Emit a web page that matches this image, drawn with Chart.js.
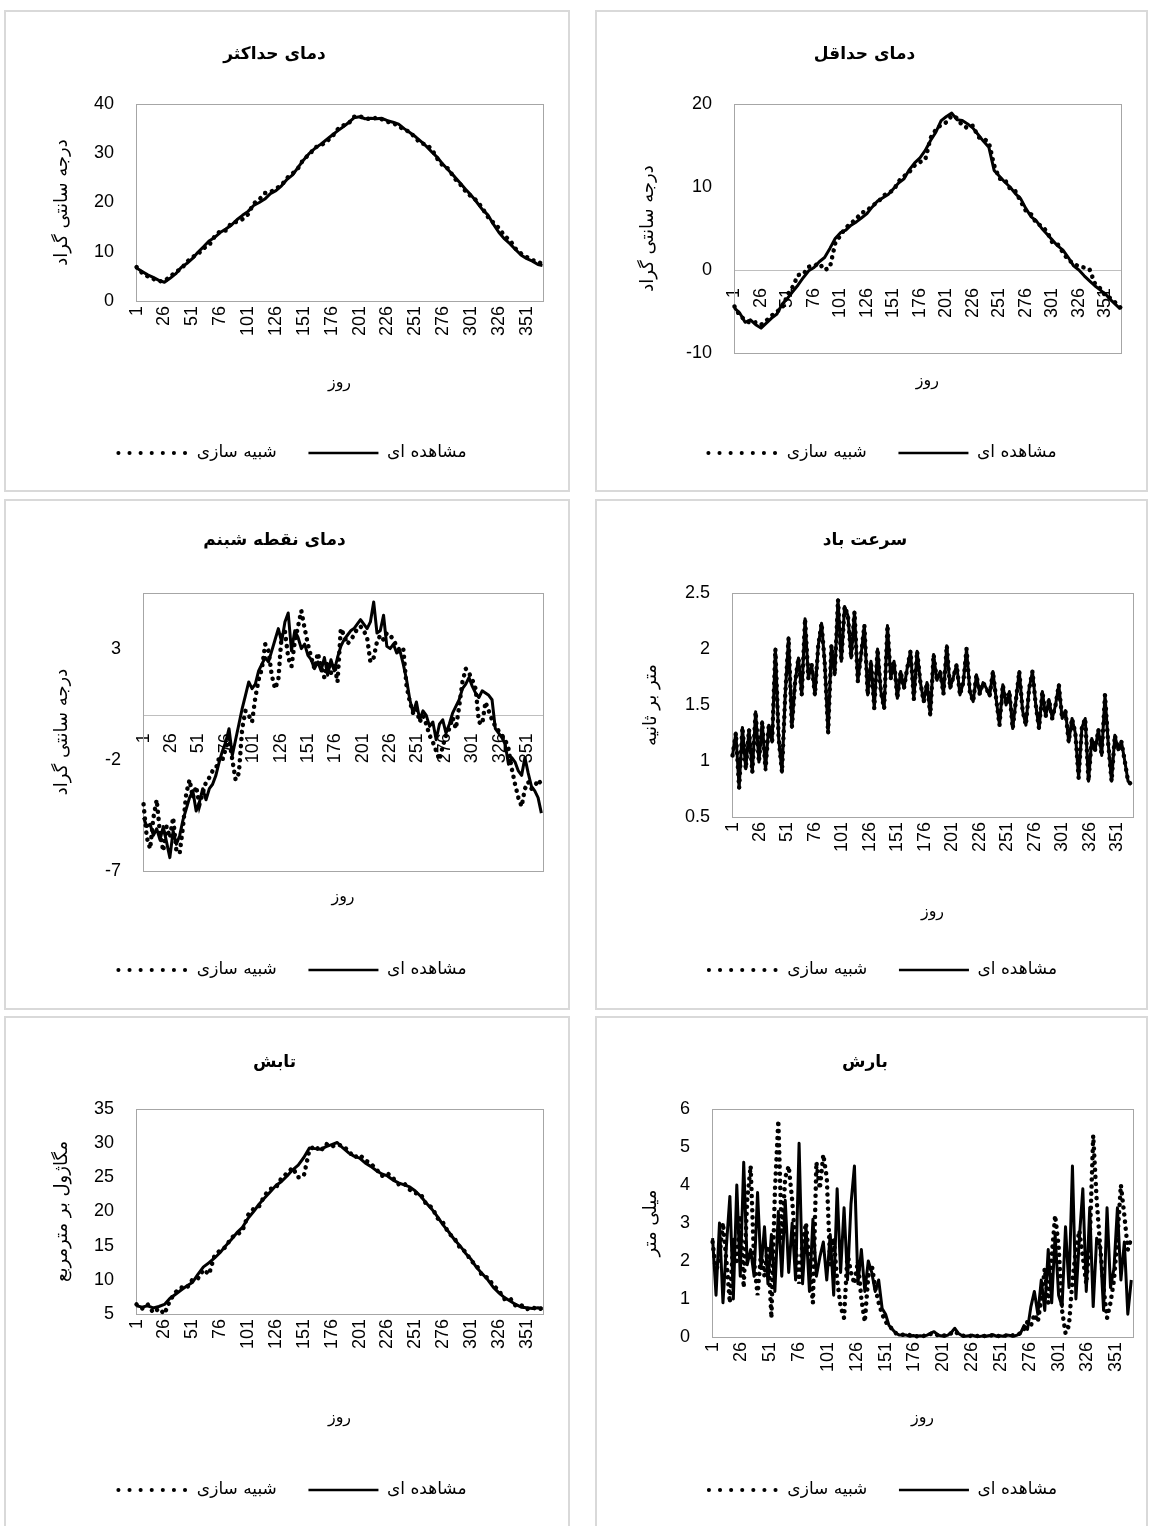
<!DOCTYPE html>
<html>
<head>
<meta charset="utf-8">
<script src="https://cdn.jsdelivr.net/npm/chart.js@4.4.0/dist/chart.umd.min.js"></script>
<style>
  body { margin: 0; width: 1151px; height: 1526px; overflow: hidden; background: #fff; position: relative; }
  .panel { position: absolute; border: 2px solid #d9d9d9; box-sizing: border-box; background: #fff; }
  .panel canvas { position: absolute; left: 0; top: 0; }
</style>
</head>
<body>
<div class="panel" id="maxT"><canvas></canvas></div>
<div class="panel" id="minT"><canvas></canvas></div>
<div class="panel" id="dew"><canvas></canvas></div>
<div class="panel" id="wind"><canvas></canvas></div>
<div class="panel" id="rad"><canvas></canvas></div>
<div class="panel" id="rain"><canvas></canvas></div>
<script>
// متن ها
const titles = ["دمای حداکثر", "دمای حداقل", "دمای نقطه شبنم", "سرعت باد", "تابش", "بارش"];
const yTitles = ["درجه سانتی گراد", "درجه سانتی گراد", "درجه سانتی گراد", "متر بر ثانیه", "مگاژول بر مترمربع", "میلی متر"];
const seriesLabels = ["شبیه سازی", "مشاهده ای"];
const xTitle = "روز";

// محور روز
const dayTicks = [1, 26, 51, 76, 101, 126, 151, 176, 201, 226, 251, 276, 301, 326, 351];
const days5 = [1,6,11,16,21,26,31,36,41,46,51,56,61,66,71,76,81,86,91,96,101,106,111,116,121,126,131,136,141,146,
  151,156,161,166,171,176,181,186,191,196,201,206,211,216,221,226,231,236,241,246,251,256,261,266,271,276,281,286,291,296,
  301,306,311,316,321,326,331,336,341,346,351,356,361,365];
const days3 = [1,4,7,10,13,16,19,22,25,28,31,34,37,40,43,46,49,52,55,58,61,64,67,70,73,76,79,82,85,88,
  91,94,97,100,103,106,109,112,115,118,121,124,127,130,133,136,139,142,145,148,151,154,157,160,163,166,169,172,175,178,
  181,184,187,190,193,196,199,202,205,208,211,214,217,220,223,226,229,232,235,238,241,244,247,250,253,256,259,262,265,268,
  271,274,277,280,283,286,289,292,295,298,301,304,307,310,313,316,319,322,325,328,331,334,337,340,343,346,349,352,355,358,361,364];

// تیک های محور عمودی
const maxTempTicks = [0, 10, 20, 30, 40];
const minTempTicks = [-10, 0, 10, 20];
const dewTicks = [-7, -2, 3];
const windTicks = [0.5, 1, 1.5, 2, 2.5];
const radTicks = [5, 10, 15, 20, 25, 30, 35];
const rainTicks = [0, 1, 2, 3, 4, 5, 6];

// دمای حداکثر (days5)
const maxTempObs = [6.7,6.0,5.3,4.8,4.2,3.8,4.6,5.5,6.8,7.6,
  8.6,9.9,11.0,12.2,12.9,13.9,14.6,15.4,16.5,17.4,
  18.2,19.4,20.0,20.7,21.8,22.4,23.4,24.7,25.6,27.2,
  28.7,30.0,31.0,31.8,32.7,33.6,34.5,35.3,36.2,37.2,
  37.4,37.0,37.1,37.0,37.1,36.6,36.3,35.9,35.0,34.2,
  33.4,32.4,31.4,30.2,29.1,27.7,26.5,25.3,24.0,22.7,
  21.5,20.1,18.6,17.5,15.6,13.9,12.6,11.6,10.4,9.3,
  8.6,8.1,7.4,7.2];
const maxTempSim = [6.9,5.7,5.0,4.5,4.0,4.1,4.9,5.9,6.5,7.9,
  8.9,9.5,10.7,11.3,13.1,14.2,14.3,15.8,16.1,16.6,
  17.6,19.8,20.6,21.9,22.1,22.8,23.5,25.0,25.9,27.0,
  28.9,29.7,31.2,31.5,32.4,33.2,34.8,35.6,36.0,37.4,
  37.5,37.1,36.9,37.2,36.9,36.4,36.1,35.6,34.7,34.4,
  33.1,32.0,31.8,30.7,28.8,27.4,26.8,24.9,23.8,22.3,
  21.2,20.4,18.9,17.1,15.9,14.8,13.2,12.3,10.6,9.6,
  8.9,8.3,7.9,7.6];

// دمای حداقل (days5)
const minTempObs = [-4.6,-5.2,-6.3,-6.0,-6.6,-7.0,-6.4,-5.8,-5.3,-4.1,
  -3.4,-2.6,-1.8,-0.9,-0.1,0.3,1.0,1.5,2.6,3.8,
  4.5,4.8,5.4,5.8,6.3,6.8,7.6,8.3,8.7,9.1,
  9.8,10.5,11.0,12.1,12.9,13.5,14.4,15.6,16.6,18.0,
  18.5,18.9,18.1,18.0,17.6,17.1,16.3,15.5,14.8,12.0,
  11.3,10.6,10.0,9.2,8.6,7.4,6.4,5.9,5.0,4.3,
  3.6,2.9,2.4,1.5,0.5,0.0,-0.7,-1.3,-1.9,-2.4,
  -2.9,-3.6,-4.2,-4.7];
const minTempSim = [-4.4,-5.5,-6.0,-6.4,-6.3,-6.6,-6.1,-5.5,-5.0,-4.6,
  -3.0,-2.0,-0.6,-0.5,0.4,0.5,0.8,0.0,0.3,3.2,
  4.2,5.1,5.6,6.2,6.9,7.1,7.8,8.1,8.9,9.3,
  9.6,10.7,11.3,11.8,12.6,13.0,13.3,15.9,16.9,17.5,
  17.8,18.6,18.3,17.4,17.1,17.4,16.0,15.8,15.4,12.6,
  11.0,10.9,9.8,9.5,8.3,7.1,6.7,5.6,5.3,4.6,
  3.3,3.1,2.1,1.2,0.8,0.4,0.3,0.1,-1.6,-2.2,
  -3.1,-3.4,-4.0,-4.5];

// تابش (days5)
const radObs = [6.2,6.0,6.2,5.9,6.1,6.4,7.3,7.9,8.5,9.1,
  9.6,10.8,11.9,12.5,13.2,14.0,15.0,15.9,16.9,17.7,
  19.0,20.0,21.1,22.0,22.9,23.8,24.4,25.2,26.1,26.8,
  27.9,29.3,29.2,29.1,29.5,29.8,30.1,29.3,28.6,28.1,
  27.8,27.1,26.6,26.0,25.5,25.2,24.6,24.2,23.9,23.6,
  23.0,22.2,21.2,20.3,19.2,18.0,17.0,15.9,15.0,13.9,
  13.0,11.8,10.9,10.0,8.9,8.1,7.4,6.9,6.4,6.0,
  5.9,5.8,5.9,5.8];
const radSim = [6.4,5.8,6.4,5.2,5.8,5.0,7.0,8.2,8.9,8.8,
  10.0,10.2,11.5,10.8,13.6,14.3,14.8,16.2,16.6,17.2,
  19.5,20.4,20.8,22.4,23.3,23.5,24.9,25.6,26.4,25.0,
  25.2,29.0,29.6,28.8,29.9,29.5,29.8,29.6,28.9,27.9,
  28.3,27.5,27.0,26.2,25.2,25.6,24.9,24.0,24.1,23.2,
  22.7,22.5,21.0,20.6,19.0,18.3,16.8,16.1,14.7,14.1,
  12.8,12.1,10.6,10.3,9.2,8.4,7.2,7.3,6.2,6.3,
  5.7,6.0,5.6,5.9];

// دمای نقطه شبنم (days3)
const dewObs = [-4.6,-5.0,-4.9,-5.4,-5.1,-5.6,-5.0,-5.7,-6.4,-5.2,
  -5.8,-5.4,-4.7,-4.2,-3.7,-3.4,-4.3,-3.9,-3.3,-3.8,
  -3.3,-3.1,-2.7,-2.1,-1.6,-1.2,-0.6,-1.8,-1.1,-0.4,
  0.3,0.9,1.5,1.2,1.4,2.0,2.3,2.6,2.4,2.9,
  3.4,3.9,3.3,4.2,4.6,2.9,3.8,3.5,3.0,3.2,
  2.7,2.5,2.1,2.4,2.0,2.6,1.8,2.5,2.0,2.6,
  3.1,3.4,3.6,3.8,3.9,4.1,4.3,4.1,3.9,4.2,
  5.1,3.7,3.8,4.5,3.1,3.0,3.2,2.8,2.9,2.3,
  1.6,0.7,0.1,0.6,-0.2,0.2,0.0,-0.5,-0.3,-1.1,
  -0.4,-0.2,-0.8,-0.4,0.1,0.4,0.7,1.2,1.4,1.7,
  1.3,1.0,0.8,1.1,1.0,0.9,0.7,-0.6,-0.8,-1.0,
  -1.3,-2.2,-1.9,-2.1,-2.5,-2.7,-1.9,-2.6,-3.2,-3.4,
  -3.7,-4.4];
const dewSim = [-4.0,-5.5,-6.0,-4.6,-3.8,-5.3,-6.1,-5.0,-5.5,-4.6,
  -6.1,-6.2,-5.0,-3.5,-2.9,-3.7,-3.2,-4.0,-3.5,-3.0,
  -2.8,-2.5,-2.4,-1.9,-2.0,-1.5,-1.0,-2.0,-2.9,-2.6,
  -0.6,0.2,0.0,-0.3,0.8,1.6,2.1,3.2,2.9,1.8,
  1.2,1.6,3.6,3.8,2.6,2.2,3.3,4.0,4.7,3.9,
  3.2,2.6,2.1,2.8,2.2,1.7,2.4,1.9,2.3,1.5,
  3.9,3.6,3.2,3.4,3.6,3.9,4.0,3.8,3.5,2.4,
  2.6,3.3,3.6,3.4,3.7,3.6,3.4,3.1,2.9,3.0,
  1.3,0.6,0.1,0.3,-0.3,0.0,-0.4,-0.9,-1.2,-1.6,
  -2.0,-1.4,-0.9,-0.6,-0.1,-0.6,0.4,1.5,2.1,1.9,
  1.6,1.2,-0.3,-0.4,0.6,0.2,-0.2,-0.5,-0.7,-0.9,
  -1.1,-1.5,-2.4,-3.1,-3.7,-4.1,-3.3,-3.0,-3.3,-3.2,
  -2.9,-3.1];

// سرعت باد (days3)
const windObs = [1.05,1.25,0.76,1.30,0.93,1.28,0.90,1.44,0.99,1.35,
  0.92,1.32,1.17,2.00,1.20,0.90,1.60,2.10,1.30,1.71,
  1.92,1.59,2.27,1.74,1.86,1.59,2.03,2.23,1.86,1.25,
  2.03,1.77,2.44,1.89,2.38,2.30,1.92,2.33,1.71,1.95,
  2.21,1.59,1.89,1.47,2.00,1.62,1.47,2.21,1.74,1.89,
  1.56,1.80,1.65,1.83,1.98,1.55,1.98,1.70,1.53,1.70,
  1.41,1.95,1.72,1.80,1.60,2.03,1.65,1.75,1.86,1.59,
  1.70,2.00,1.62,1.53,1.77,1.60,1.70,1.65,1.58,1.80,
  1.55,1.32,1.68,1.50,1.62,1.29,1.55,1.80,1.45,1.32,
  1.65,1.80,1.50,1.29,1.62,1.40,1.55,1.38,1.50,1.68,
  1.38,1.45,1.17,1.38,1.25,0.85,1.30,1.38,0.82,1.20,
  1.10,1.28,1.05,1.59,1.15,0.82,1.23,1.10,1.17,1.00,
  0.82,0.79];
// در نمودار اصلی شبیه سازی باد روی مشاهده افتاده است
const windSim = windObs.slice();

// بارش (days3)
const rainObs = [2.6,1.1,3.0,0.9,2.4,3.7,1.0,4.0,1.6,4.6,
  1.9,2.3,1.6,3.8,1.8,2.9,1.4,2.7,1.2,3.3,
  1.6,3.6,1.7,3.0,1.5,5.1,1.4,2.9,1.2,3.1,
  1.6,2.1,2.5,1.5,2.7,1.1,3.9,1.7,3.4,1.5,
  3.5,4.5,1.4,2.3,1.2,2.0,1.7,1.2,1.5,0.75,
  0.6,0.3,0.2,0.1,0.05,0.05,0.05,0.02,0.04,0.02,
  0.03,0.02,0.05,0.1,0.14,0.06,0.03,0.02,0.05,0.12,
  0.23,0.1,0.04,0.02,0.03,0.05,0.02,0.01,0.03,0.02,
  0.04,0.06,0.02,0.03,0.02,0.05,0.04,0.02,0.05,0.1,
  0.3,0.2,0.8,1.2,0.6,1.5,0.7,2.3,0.9,2.7,
  1.1,0.8,2.9,1.3,4.5,1.0,2.6,3.9,1.2,3.4,
  0.8,2.6,2.4,0.7,3.4,1.3,1.8,3.4,1.5,2.5,
  0.6,1.5];
const rainSim = [2.5,1.7,2.1,3.0,2.0,0.9,2.6,2.0,3.2,1.3,
  3.6,4.5,2.0,1.1,2.2,1.6,2.4,0.5,3.8,5.7,
  2.6,4.2,4.5,3.6,2.4,1.4,2.5,3.0,1.9,0.9,
  4.6,3.9,4.8,4.2,1.9,2.6,1.5,0.8,0.5,2.2,
  1.7,1.4,2.0,1.0,0.4,1.6,1.9,1.3,0.9,0.6,
  0.4,0.3,0.2,0.1,0.08,0.06,0.04,0.05,0.03,0.02,
  0.04,0.03,0.05,0.08,0.1,0.05,0.03,0.04,0.06,0.1,
  0.15,0.08,0.04,0.03,0.02,0.04,0.03,0.02,0.03,0.02,
  0.03,0.05,0.03,0.02,0.03,0.04,0.03,0.05,0.06,0.1,
  0.2,0.4,0.3,0.6,0.4,1.0,1.8,0.9,2.1,3.2,
  2.4,0.7,0.1,0.3,1.5,2.3,2.8,2.1,1.4,2.5,
  5.3,3.6,2.4,1.3,0.5,0.9,1.5,2.6,4.0,3.2,
  2.3,2.6];

// فونت ها
const numFamily = "'Liberation Sans', Arial, sans-serif";
const faFamily = "'DejaVu Sans', sans-serif";
const titleSize = 17, axisTitleSize = 16, yTitleSize = 18, legendSize = 17;

// چیدمان هر پنل (مختصات صفحه)
const panels = [
  { id: "maxT", panel: { x: 4, y: 10, w: 566, h: 482 }, plot: { l: 136, t: 104, r: 543, b: 301 },
    titleY: 55, xTitleY: 383, legendY: 453, yTitleX: 62, n: 0,
    days: days5, obs: maxTempObs, sim: maxTempSim, yMin: 0, yMax: 40, yTicks: maxTempTicks, zeroAxis: false },
  { id: "minT", panel: { x: 595, y: 10, w: 553, h: 482 }, plot: { l: 734, t: 104, r: 1132, b: 353 },
    titleY: 55, xTitleY: 381, legendY: 453, yTitleX: 648, n: 1,
    days: days5, obs: minTempObs, sim: minTempSim, yMin: -10, yMax: 20, yTicks: minTempTicks, zeroAxis: true },
  { id: "dew", panel: { x: 4, y: 499, w: 566, h: 511 }, plot: { l: 143, t: 593, r: 543, b: 871 },
    titleY: 541, xTitleY: 897, legendY: 970, yTitleX: 62, n: 2,
    days: days3, obs: dewObs, sim: dewSim, yMin: -7, yMax: 5.5, yTicks: dewTicks, zeroAxis: true },
  { id: "wind", panel: { x: 595, y: 499, w: 553, h: 511 }, plot: { l: 732, t: 593, r: 1133, b: 817 },
    titleY: 541, xTitleY: 912, legendY: 970, yTitleX: 651, n: 3,
    days: days3, obs: windObs, sim: windSim, yMin: 0.5, yMax: 2.5, yTicks: windTicks, zeroAxis: false },
  { id: "rad", panel: { x: 4, y: 1016, w: 566, h: 512 }, plot: { l: 136, t: 1109, r: 543, b: 1314 },
    titleY: 1063, xTitleY: 1418, legendY: 1490, yTitleX: 62, n: 4,
    days: days5, obs: radObs, sim: radSim, yMin: 5, yMax: 35, yTicks: radTicks, zeroAxis: false },
  { id: "rain", panel: { x: 595, y: 1016, w: 553, h: 512 }, plot: { l: 712, t: 1109, r: 1133, b: 1337 },
    titleY: 1063, xTitleY: 1418, legendY: 1490, yTitleX: 651, n: 5,
    days: days3, obs: rainObs, sim: rainSim, yMin: 0, yMax: 6, yTicks: rainTicks, zeroAxis: false }
];

// کادر ناحیه رسم
const plotFrame = {
  id: "plotFrame",
  beforeDatasetsDraw(chart) {
    const { ctx, chartArea: a } = chart;
    ctx.save();
    ctx.strokeStyle = "#a6a6a6";
    ctx.lineWidth = 1;
    ctx.strokeRect(Math.round(a.left) + 0.5, Math.round(a.top) + 0.5, Math.round(a.right - a.left), Math.round(a.bottom - a.top));
    ctx.restore();
  }
};

// راهنما کمی به راست مثل اکسل
const legendNudge = {
  id: "legendNudge",
  afterLayout(chart) {
    const lg = chart.legend;
    if (lg) { lg.left += 18; lg.right += 18; }
  }
};

const toPoints = (xs, ys) => xs.map((x, i) => ({ x: x, y: ys[i] }));

panels.forEach((s) => {
  const box = document.getElementById(s.id);
  box.style.left = s.panel.x + "px";
  box.style.top = s.panel.y + "px";
  box.style.width = s.panel.w + "px";
  box.style.height = s.panel.h + "px";
  const canvas = box.querySelector("canvas");
  const cw = s.panel.w - 4, ch = s.panel.h - 4;
  canvas.width = cw; canvas.height = ch;
  canvas.style.width = cw + "px"; canvas.style.height = ch + "px";
  const ox = s.panel.x + 2, oy = s.panel.y + 2;
  const L = s.plot.l - ox, T = s.plot.t - oy, R = s.plot.r - ox, B = s.plot.b - oy;

  const titleLH = titleSize * 1.2;
  const titlePadTop = s.titleY - oy - titleLH / 2;
  const titlePadBottom = T - titlePadTop - titleLH;
  const legendPad = 10;
  const legendTop = s.legendY - oy - legendPad - legendSize / 2;
  const legendBottom = legendTop + legendSize + legendPad + 10;
  const xtLH = axisTitleSize * 1.2;
  const xtPad = legendTop - (s.xTitleY - oy) - xtLH / 2;
  const ytLH = yTitleSize * 1.2;
  const ytPad = s.yTitleX - ox - ytLH / 2;

  const xTitleOpts = { display: true, text: xTitle, color: "#000", font: { family: faFamily, size: axisTitleSize }, padding: { top: 0, bottom: xtPad } };
  const dayAxis = {
    type: "linear", min: 0.5, max: 365.5,
    afterBuildTicks: (sc) => { sc.ticks = dayTicks.map((v) => ({ value: v })); },
    ticks: { minRotation: 90, maxRotation: 90, autoSkip: false, color: "#000", font: { family: numFamily, size: 18 },
      padding: s.zeroAxis ? 18 : 5, callback: (v) => String(v) },
    grid: { display: false, drawTicks: false }
  };
  const scales = {};
  if (s.zeroAxis) {
    scales.x = Object.assign(dayAxis, { position: { y: 0 }, border: { display: true, color: "#bfbfbf", width: 1 } });
    scales.xt = {
      type: "linear", position: "bottom", min: 0, max: 1,
      ticks: { display: false }, grid: { display: false, drawTicks: false }, border: { display: false },
      title: xTitleOpts,
      afterFit: (sc) => { sc.height = legendTop - B; }
    };
  } else {
    scales.x = Object.assign(dayAxis, {
      position: "bottom", border: { display: false }, title: xTitleOpts,
      afterFit: (sc) => { sc.height = legendTop - B; }
    });
  }
  scales.y = {
    type: "linear", position: "left", min: s.yMin, max: s.yMax,
    afterBuildTicks: (sc) => { sc.ticks = s.yTicks.map((v) => ({ value: v })); },
    ticks: { color: "#000", font: { family: numFamily, size: 18 }, padding: 22, callback: (v) => String(v) },
    grid: { display: false, drawTicks: false },
    border: { display: false },
    title: { display: true, text: yTitles[s.n], color: "#000", font: { family: faFamily, size: yTitleSize }, padding: { top: ytPad, bottom: 0 } },
    afterFit: (sc) => { sc.width = L; }
  };

  new Chart(canvas, {
    type: "line",
    data: {
      datasets: [
        {
          label: seriesLabels[0], data: toPoints(s.days, s.sim),
          borderColor: "#000", borderWidth: 4.5, borderDash: [0.1, 7], borderCapStyle: "round",
          pointRadius: 0, fill: false, tension: 0, clip: 6, xAxisID: "x", yAxisID: "y"
        },
        {
          label: seriesLabels[1], data: toPoints(s.days, s.obs),
          borderColor: "#000", borderWidth: 3, borderJoinStyle: "round",
          pointRadius: 0, fill: false, tension: 0, clip: 6, xAxisID: "x", yAxisID: "y"
        }
      ]
    },
    options: {
      responsive: false, animation: false, devicePixelRatio: 1, events: [],
      layout: { padding: { left: 0, top: 0, right: cw - R, bottom: ch - legendBottom } },
      scales: scales,
      plugins: {
        tooltip: { enabled: false },
        title: {
          display: true, text: titles[s.n], color: "#000",
          font: { family: faFamily, size: titleSize, weight: "bold" },
          padding: { top: titlePadTop, bottom: titlePadBottom }
        },
        legend: {
          display: true, position: "bottom",
          labels: {
            usePointStyle: true, pointStyleWidth: 70, padding: legendPad, color: "#000",
            font: { family: faFamily, size: legendSize },
            generateLabels: (chart) => chart.data.datasets.map((ds, i) => ({
              text: i === 0 ? ds.label + "\u00A0\u00A0\u00A0\u00A0" : ds.label,
              datasetIndex: i, hidden: false, pointStyle: "line",
              fillStyle: "#000", strokeStyle: "#000", fontColor: "#000",
              lineWidth: i === 0 ? 4 : 2.5,
              lineDash: i === 0 ? [0.1, 11] : [],
              lineCap: i === 0 ? "round" : "butt"
            }))
          }
        }
      }
    },
    plugins: [plotFrame, legendNudge]
  });
});
</script>
</body>
</html>
